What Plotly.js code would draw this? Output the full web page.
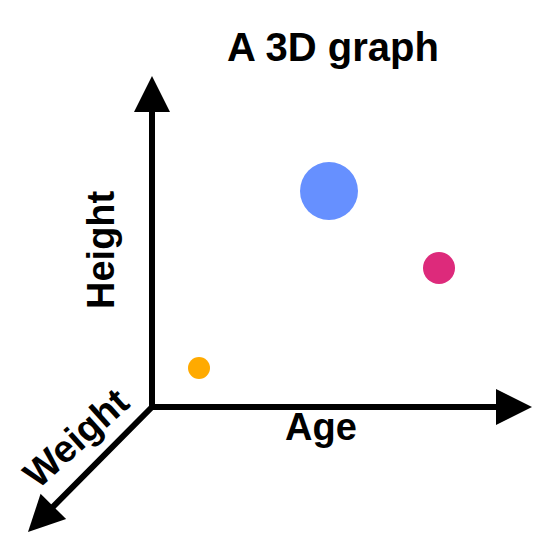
<!DOCTYPE html>
<html><head><script src="https://cdn.plot.ly/plotly-3.0.1.min.js"></script></head>
<body style="margin:0">
<div id="c" style="width:550px;height:541px"></div>
<script>
const labels = ["Small", "Large", "Medium"];
const ageVals = [199, 329, 439];
const heightVals = [368, 191, 268];
const sizeVals = [22, 58, 32];
const colors = ["#FFAA00", "#6690FF", "#DD2A7B"];

const F = {family: "Liberation Sans, Arial, sans-serif", size: 38, color: "black"};
function arrow(x, y, ax, ay) {
  return {x, y, ax, ay, xref: "x", yref: "y", axref: "x", ayref: "y", text: "",
    showarrow: true, arrowhead: 2, arrowsize: 1.2, arrowwidth: 6, arrowcolor: "black", standoff: 0};
}
Plotly.newPlot("c", [{
  x: ageVals, y: heightVals, text: labels, mode: "markers", type: "scatter",
  marker: {size: sizeVals, color: colors, opacity: 1, line: {width: 0}}, hoverinfo: "text"
}], {
  width: 550, height: 541, margin: {l: 0, r: 0, t: 0, b: 0},
  xaxis: {range: [0, 550], visible: false, fixedrange: true},
  yaxis: {range: [541, 0], visible: false, fixedrange: true},
  showlegend: false, plot_bgcolor: "white", paper_bgcolor: "white",
  annotations: [
    arrow(152, 76, 152, 410),
    arrow(532, 407, 149, 407),
    arrow(28, 532, 154, 405),
    {x: 333, y: 47, xref: "x", yref: "y", text: "<b>A 3D graph</b>", showarrow: false, font: {...F, size: 40}},
    {x: 101, y: 250, xref: "x", yref: "y", text: "<b>Height</b>", showarrow: false, textangle: -90, font: F},
    {x: 321, y: 427, xref: "x", yref: "y", text: "<b>Age</b>", showarrow: false, font: F},
    {x: 76, y: 438, xref: "x", yref: "y", text: "<b>Weight</b>", showarrow: false, textangle: -42, font: F}
  ]
}, {displayModeBar: false});
</script></body></html>
